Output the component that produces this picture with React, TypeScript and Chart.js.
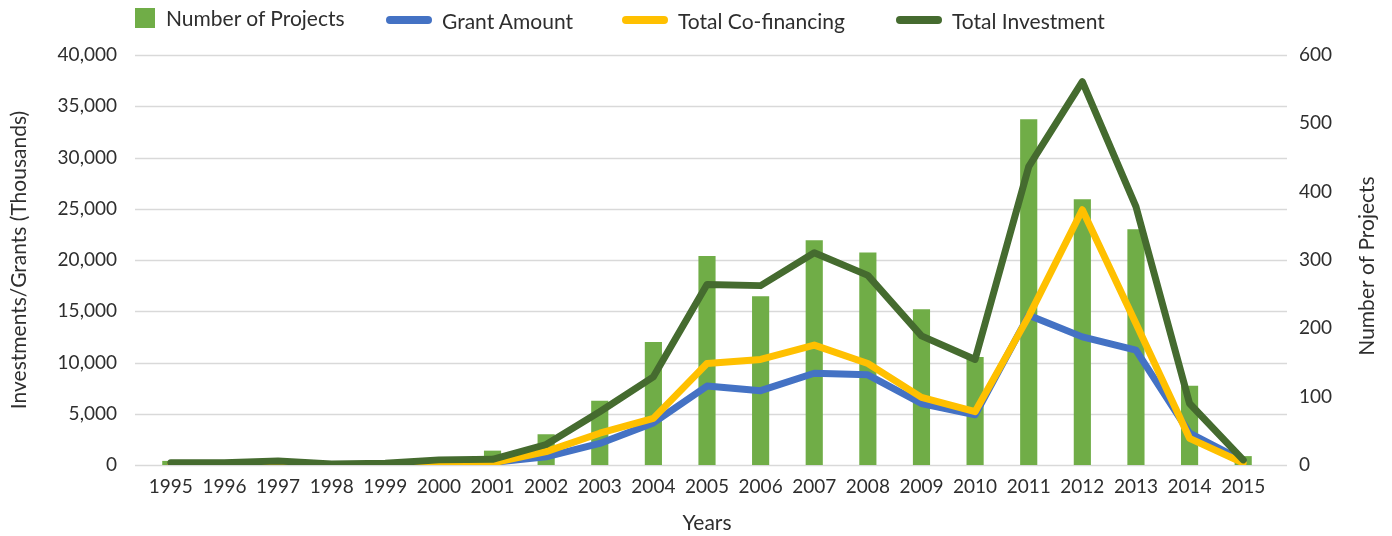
import React, { useEffect, useRef } from "react";
import { Chart, registerables } from "chart.js";

Chart.register(...registerables);

const years = [
  "1995", "1996", "1997", "1998", "1999", "2000", "2001", "2002", "2003", "2004", "2005",
  "2006", "2007", "2008", "2009", "2010", "2011", "2012", "2013", "2014", "2015",
];
const projects = [6, 2, 4, 1, 2, 5, 21, 45, 94, 180, 306, 247, 329, 311, 228, 158, 506, 389, 345, 116, 13];
const grantAmount = [50, 50, 100, 20, 50, 200, 250, 800, 2100, 4100, 7700, 7250, 8950, 8800, 6000, 4900, 14600, 12500, 11200, 3100, 400];
const coFinancing = [50, 50, 100, 20, 50, 150, 200, 1300, 3100, 4550, 9900, 10300, 11700, 9900, 6600, 5200, 14500, 24900, 13800, 2600, 200];
const totalInvestment = [220, 220, 400, 100, 170, 500, 550, 2000, 5200, 8600, 17600, 17500, 20700, 18500, 12600, 10300, 29100, 37400, 25200, 6000, 500];

const leftMax = 40000;
const leftStep = 5000;
const rightMax = 600;
const rightStep = 100;

const seriesLabels = ["Number of Projects", "Grant Amount", "Total Co-financing", "Total Investment"];
const seriesColors = ["#70AD47", "#4472C4", "#FFC000", "#456B2F"];
const legendLeft = [135, 386, 622, 896];
const legendTop = [3, 6, 6, 6];

const FONT = "Lato, 'Open Sans', sans-serif";
const TEXT = "#2e2e2e";
const GRID = "#d9d9d9";

export default function App() {
  const ref = useRef<HTMLCanvasElement>(null);

  useEffect(() => {
    document.body.style.margin = "0";
    const extras = {
      id: "extras",
      beforeDatasetsDraw(chart: any) {
        const s = chart.scales.y;
        const { left, right } = chart.chartArea;
        const ctx = chart.ctx;
        ctx.save();
        ctx.strokeStyle = GRID;
        ctx.lineWidth = 1.3;
        s.ticks.forEach((t: any) => {
          const y = Math.round(s.getPixelForValue(t.value)) + 0.5;
          ctx.beginPath();
          ctx.moveTo(left - 9, y);
          ctx.lineTo(right + 17, y);
          ctx.stroke();
        });
        ctx.restore();
      },
      afterDraw(chart: any) {
        const s = chart.scales.y1;
        const ctx = chart.ctx;
        ctx.save();
        ctx.translate(1367, (s.top + s.bottom) / 2 + 6);
        ctx.rotate(-Math.PI / 2);
        ctx.font = `21px ${FONT}`;
        ctx.fillStyle = TEXT;
        ctx.textAlign = "center";
        ctx.textBaseline = "middle";
        ctx.fillText("Number of Projects", 0, 0);
        ctx.restore();
      },
    };
    const tickFont = { family: FONT, size: 19 };
    const titleFont = { family: FONT, size: 21 };
    const lineStyle = {
      type: "line",
      borderWidth: 7,
      pointRadius: 0,
      tension: 0,
      borderCapStyle: "round",
      borderJoinStyle: "round",
      yAxisID: "y",
    };
    const chart = new Chart(ref.current!, {
      type: "bar",
      data: {
        labels: years,
        datasets: [
          {
            type: "bar",
            label: seriesLabels[0],
            data: projects,
            backgroundColor: seriesColors[0],
            yAxisID: "y1",
            order: 4,
            categoryPercentage: 1,
            barPercentage: 0.32,
          },
          { ...lineStyle, label: seriesLabels[1], data: grantAmount, borderColor: seriesColors[1], order: 3 },
          { ...lineStyle, label: seriesLabels[2], data: coFinancing, borderColor: seriesColors[2], order: 2 },
          { ...lineStyle, label: seriesLabels[3], data: totalInvestment, borderColor: seriesColors[3], order: 1 },
        ] as any,
      },
      options: {
        responsive: false,
        animation: false,
        events: [],
        layout: { padding: { top: 55, left: 0, right: 0, bottom: 0 } },
        plugins: { legend: { display: false }, tooltip: { enabled: false } },
        scales: {
          x: {
            grid: { display: false, drawTicks: false },
            border: { display: false },
            ticks: { font: tickFont, color: TEXT, padding: 10, maxRotation: 0, autoSkip: false },
            title: { display: true, text: "Years", font: titleFont, color: TEXT, padding: { top: 0, bottom: 0 } },
            afterFit: (s: any) => {
              s.height = 71;
            },
          },
          y: {
            position: "left",
            min: 0,
            max: leftMax,
            ticks: {
              stepSize: leftStep,
              font: tickFont,
              color: TEXT,
              padding: 27,
              callback: (v: any) => Number(v).toLocaleString("en-US"),
            },
            grid: { display: false, drawTicks: false },
            border: { display: false },
            title: {
              display: true,
              text: "Investments/Grants (Thousands)",
              font: titleFont,
              color: TEXT,
              padding: { top: 7, bottom: 0 },
            },
            afterFit: (s: any) => {
              s.width = 144;
            },
          },
          y1: {
            position: "right",
            min: 0,
            max: rightMax,
            ticks: { stepSize: rightStep, font: tickFont, color: TEXT, padding: 29 },
            grid: { display: false, drawTicks: false },
            border: { display: false },
            afterFit: (s: any) => {
              s.width = 122;
            },
          },
        },
      } as any,
      plugins: [extras],
    });
    return () => chart.destroy();
  }, []);

  return (
    <div style={{ position: "relative", width: 1392, height: 536, background: "#fff" }}>
      <canvas ref={ref} width={1392} height={536} style={{ display: "block" }} />
      {seriesLabels.map((label, i) => (
        <div
          key={label}
          style={{
            position: "absolute",
            left: legendLeft[i],
            top: legendTop[i],
            height: 28,
            display: "flex",
            alignItems: "center",
            fontFamily: FONT,
            fontSize: 21,
            color: TEXT,
            whiteSpace: "nowrap",
          }}
        >
          <span
            style={{
              display: "inline-block",
              width: i === 0 ? 20 : 46,
              height: i === 0 ? 20 : 8,
              borderRadius: i === 0 ? 0 : 4,
              background: seriesColors[i],
              marginRight: i === 0 ? 11 : 10,
              marginTop: i === 0 ? 2 : 0,
            }}
          />
          {label}
        </div>
      ))}
    </div>
  );
}
